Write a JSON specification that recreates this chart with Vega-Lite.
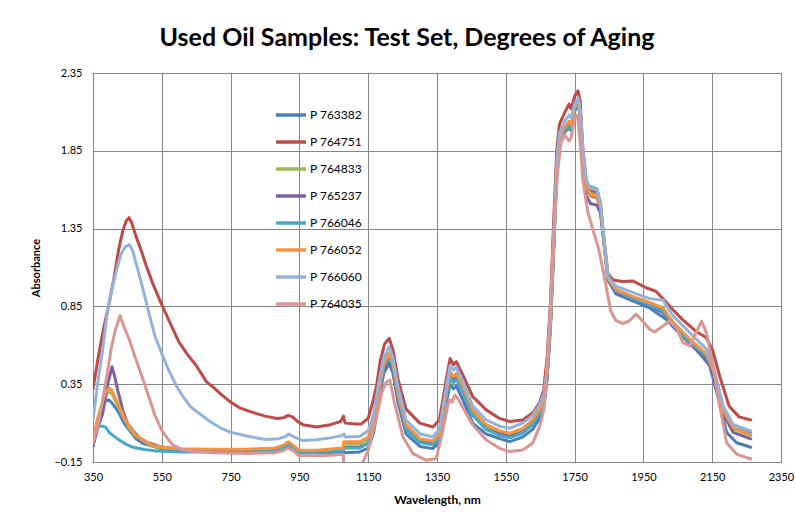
{
"$schema":"https://vega.github.io/schema/vega-lite/v6.json",
"width":688,"height":389,
"autosize":"none",
"padding":{"left":93,"top":73,"right":14,"bottom":67},
"background":"white",
"title":{"text":"Used Oil Samples: Test Set, Degrees of Aging","font":"Lato","fontSize":25,"fontWeight":"bold","color":"#000000","anchor":"middle","dx":-30,"offset":16},
"config":{"view":{"stroke":"#868686","strokeWidth":1},"font":"Lato"},
"datasets":{"d":[
{"s":"P 763382","w":350,"a":-0.05},{"s":"P 763382","w":362,"a":0.10},{"s":"P 763382","w":373,"a":0.17},{"s":"P 763382","w":385,"a":0.24},{"s":"P 763382","w":395,"a":0.25},{"s":"P 763382","w":405,"a":0.23},{"s":"P 763382","w":415,"a":0.20},{"s":"P 763382","w":427,"a":0.16},{"s":"P 763382","w":440,"a":0.10},{"s":"P 763382","w":456,"a":0.053},{"s":"P 763382","w":475,"a":0.0},{"s":"P 763382","w":496,"a":-0.032},{"s":"P 763382","w":550,"a":-0.065},{"s":"P 763382","w":600,"a":-0.075},{"s":"P 763382","w":700,"a":-0.08},{"s":"P 763382","w":800,"a":-0.082},{"s":"P 763382","w":880,"a":-0.075},{"s":"P 763382","w":905,"a":-0.055},{"s":"P 763382","w":918,"a":-0.035},{"s":"P 763382","w":930,"a":-0.055},{"s":"P 763382","w":950,"a":-0.09},{"s":"P 763382","w":1000,"a":-0.09},{"s":"P 763382","w":1077,"a":-0.085},{"s":"P 763382","w":1085,"a":-0.09},{"s":"P 763382","w":1125,"a":-0.085},{"s":"P 763382","w":1150,"a":-0.06},{"s":"P 763382","w":1165,"a":0.03},{"s":"P 763382","w":1180,"a":0.22},{"s":"P 763382","w":1195,"a":0.42},{"s":"P 763382","w":1211,"a":0.483},{"s":"P 763382","w":1222,"a":0.42},{"s":"P 763382","w":1237,"a":0.23},{"s":"P 763382","w":1260,"a":0.03},{"s":"P 763382","w":1300,"a":-0.05},{"s":"P 763382","w":1338,"a":-0.064},{"s":"P 763382","w":1357,"a":-0.02},{"s":"P 763382","w":1377,"a":0.23},{"s":"P 763382","w":1388,"a":0.35},{"s":"P 763382","w":1398,"a":0.32},{"s":"P 763382","w":1406,"a":0.34},{"s":"P 763382","w":1425,"a":0.25},{"s":"P 763382","w":1454,"a":0.10},{"s":"P 763382","w":1493,"a":0.03},{"s":"P 763382","w":1532,"a":0.0},{"s":"P 763382","w":1561,"a":-0.019},{"s":"P 763382","w":1599,"a":0.01},{"s":"P 763382","w":1628,"a":0.06},{"s":"P 763382","w":1648,"a":0.13},{"s":"P 763382","w":1660,"a":0.19},{"s":"P 763382","w":1670,"a":0.38},{"s":"P 763382","w":1680,"a":0.72},{"s":"P 763382","w":1690,"a":1.25},{"s":"P 763382","w":1698,"a":1.70},{"s":"P 763382","w":1706,"a":1.90},{"s":"P 763382","w":1721,"a":1.97},{"s":"P 763382","w":1734,"a":2.00},{"s":"P 763382","w":1740,"a":1.98},{"s":"P 763382","w":1750,"a":2.10},{"s":"P 763382","w":1760,"a":2.16},{"s":"P 763382","w":1766,"a":2.08},{"s":"P 763382","w":1774,"a":1.82},{"s":"P 763382","w":1784,"a":1.61},{"s":"P 763382","w":1797,"a":1.56},{"s":"P 763382","w":1815,"a":1.55},{"s":"P 763382","w":1825,"a":1.48},{"s":"P 763382","w":1832,"a":1.33},{"s":"P 763382","w":1847,"a":1.02},{"s":"P 763382","w":1870,"a":0.93},{"s":"P 763382","w":1919,"a":0.885},{"s":"P 763382","w":1968,"a":0.84},{"s":"P 763382","w":2016,"a":0.767},{"s":"P 763382","w":2075,"a":0.64},{"s":"P 763382","w":2124,"a":0.52},{"s":"P 763382","w":2143,"a":0.467},{"s":"P 763382","w":2163,"a":0.30},{"s":"P 763382","w":2192,"a":0.04},{"s":"P 763382","w":2221,"a":-0.026},{"s":"P 763382","w":2262,"a":-0.055},

{"s":"P 764751","w":350,"a":0.32},{"s":"P 764751","w":365,"a":0.52},{"s":"P 764751","w":380,"a":0.70},{"s":"P 764751","w":395,"a":0.85},{"s":"P 764751","w":410,"a":1.02},{"s":"P 764751","w":425,"a":1.22},{"s":"P 764751","w":437,"a":1.34},{"s":"P 764751","w":447,"a":1.40},{"s":"P 764751","w":455,"a":1.42},{"s":"P 764751","w":462,"a":1.39},{"s":"P 764751","w":475,"a":1.30},{"s":"P 764751","w":490,"a":1.21},{"s":"P 764751","w":505,"a":1.11},{"s":"P 764751","w":525,"a":0.99},{"s":"P 764751","w":550,"a":0.86},{"s":"P 764751","w":575,"a":0.74},{"s":"P 764751","w":600,"a":0.62},{"s":"P 764751","w":625,"a":0.54},{"s":"P 764751","w":650,"a":0.47},{"s":"P 764751","w":680,"a":0.365},{"s":"P 764751","w":700,"a":0.33},{"s":"P 764751","w":725,"a":0.28},{"s":"P 764751","w":750,"a":0.235},{"s":"P 764751","w":775,"a":0.20},{"s":"P 764751","w":805,"a":0.175},{"s":"P 764751","w":850,"a":0.145},{"s":"P 764751","w":885,"a":0.13},{"s":"P 764751","w":905,"a":0.135},{"s":"P 764751","w":917,"a":0.15},{"s":"P 764751","w":930,"a":0.14},{"s":"P 764751","w":945,"a":0.11},{"s":"P 764751","w":960,"a":0.09},{"s":"P 764751","w":1000,"a":0.075},{"s":"P 764751","w":1040,"a":0.09},{"s":"P 764751","w":1070,"a":0.11},{"s":"P 764751","w":1078,"a":0.145},{"s":"P 764751","w":1083,"a":0.10},{"s":"P 764751","w":1110,"a":0.095},{"s":"P 764751","w":1130,"a":0.095},{"s":"P 764751","w":1150,"a":0.13},{"s":"P 764751","w":1165,"a":0.25},{"s":"P 764751","w":1175,"a":0.35},{"s":"P 764751","w":1185,"a":0.50},{"s":"P 764751","w":1198,"a":0.61},{"s":"P 764751","w":1205,"a":0.63},{"s":"P 764751","w":1211,"a":0.645},{"s":"P 764751","w":1222,"a":0.57},{"s":"P 764751","w":1237,"a":0.38},{"s":"P 764751","w":1260,"a":0.19},{"s":"P 764751","w":1300,"a":0.10},{"s":"P 764751","w":1338,"a":0.075},{"s":"P 764751","w":1357,"a":0.12},{"s":"P 764751","w":1377,"a":0.38},{"s":"P 764751","w":1388,"a":0.515},{"s":"P 764751","w":1398,"a":0.475},{"s":"P 764751","w":1406,"a":0.495},{"s":"P 764751","w":1425,"a":0.41},{"s":"P 764751","w":1454,"a":0.27},{"s":"P 764751","w":1493,"a":0.185},{"s":"P 764751","w":1532,"a":0.13},{"s":"P 764751","w":1561,"a":0.11},{"s":"P 764751","w":1599,"a":0.12},{"s":"P 764751","w":1628,"a":0.165},{"s":"P 764751","w":1648,"a":0.23},{"s":"P 764751","w":1660,"a":0.31},{"s":"P 764751","w":1670,"a":0.52},{"s":"P 764751","w":1680,"a":0.88},{"s":"P 764751","w":1690,"a":1.45},{"s":"P 764751","w":1698,"a":1.85},{"s":"P 764751","w":1706,"a":2.02},{"s":"P 764751","w":1721,"a":2.095},{"s":"P 764751","w":1734,"a":2.15},{"s":"P 764751","w":1740,"a":2.12},{"s":"P 764751","w":1750,"a":2.20},{"s":"P 764751","w":1760,"a":2.235},{"s":"P 764751","w":1766,"a":2.17},{"s":"P 764751","w":1774,"a":1.87},{"s":"P 764751","w":1784,"a":1.66},{"s":"P 764751","w":1797,"a":1.59},{"s":"P 764751","w":1815,"a":1.58},{"s":"P 764751","w":1825,"a":1.50},{"s":"P 764751","w":1832,"a":1.35},{"s":"P 764751","w":1847,"a":1.06},{"s":"P 764751","w":1861,"a":1.02},{"s":"P 764751","w":1890,"a":1.01},{"s":"P 764751","w":1919,"a":1.014},{"s":"P 764751","w":1958,"a":0.97},{"s":"P 764751","w":1987,"a":0.946},{"s":"P 764751","w":2011,"a":0.89},{"s":"P 764751","w":2035,"a":0.83},{"s":"P 764751","w":2064,"a":0.765},{"s":"P 764751","w":2103,"a":0.69},{"s":"P 764751","w":2132,"a":0.65},{"s":"P 764751","w":2151,"a":0.57},{"s":"P 764751","w":2172,"a":0.40},{"s":"P 764751","w":2199,"a":0.21},{"s":"P 764751","w":2228,"a":0.14},{"s":"P 764751","w":2262,"a":0.12},

{"s":"P 764833","w":350,"a":-0.035},{"s":"P 764833","w":362,"a":0.11},{"s":"P 764833","w":373,"a":0.19},{"s":"P 764833","w":385,"a":0.28},{"s":"P 764833","w":395,"a":0.30},{"s":"P 764833","w":405,"a":0.29},{"s":"P 764833","w":415,"a":0.245},{"s":"P 764833","w":427,"a":0.19},{"s":"P 764833","w":440,"a":0.13},{"s":"P 764833","w":456,"a":0.065},{"s":"P 764833","w":475,"a":0.015},{"s":"P 764833","w":496,"a":-0.015},{"s":"P 764833","w":520,"a":-0.045},{"s":"P 764833","w":550,"a":-0.06},{"s":"P 764833","w":600,"a":-0.068},{"s":"P 764833","w":700,"a":-0.072},{"s":"P 764833","w":800,"a":-0.072},{"s":"P 764833","w":880,"a":-0.065},{"s":"P 764833","w":905,"a":-0.045},{"s":"P 764833","w":918,"a":-0.025},{"s":"P 764833","w":930,"a":-0.045},{"s":"P 764833","w":950,"a":-0.08},{"s":"P 764833","w":1000,"a":-0.08},{"s":"P 764833","w":1050,"a":-0.07},{"s":"P 764833","w":1077,"a":-0.068},{"s":"P 764833","w":1079,"a":-0.035},{"s":"P 764833","w":1125,"a":-0.035},{"s":"P 764833","w":1150,"a":-0.005},{"s":"P 764833","w":1165,"a":0.08},{"s":"P 764833","w":1180,"a":0.28},{"s":"P 764833","w":1195,"a":0.47},{"s":"P 764833","w":1211,"a":0.535},{"s":"P 764833","w":1222,"a":0.47},{"s":"P 764833","w":1237,"a":0.28},{"s":"P 764833","w":1260,"a":0.08},{"s":"P 764833","w":1300,"a":-0.01},{"s":"P 764833","w":1338,"a":-0.025},{"s":"P 764833","w":1357,"a":0.02},{"s":"P 764833","w":1377,"a":0.29},{"s":"P 764833","w":1388,"a":0.42},{"s":"P 764833","w":1398,"a":0.39},{"s":"P 764833","w":1406,"a":0.41},{"s":"P 764833","w":1425,"a":0.33},{"s":"P 764833","w":1454,"a":0.175},{"s":"P 764833","w":1493,"a":0.08},{"s":"P 764833","w":1532,"a":0.04},{"s":"P 764833","w":1561,"a":0.025},{"s":"P 764833","w":1599,"a":0.055},{"s":"P 764833","w":1628,"a":0.11},{"s":"P 764833","w":1648,"a":0.18},{"s":"P 764833","w":1660,"a":0.24},{"s":"P 764833","w":1670,"a":0.41},{"s":"P 764833","w":1680,"a":0.75},{"s":"P 764833","w":1690,"a":1.29},{"s":"P 764833","w":1698,"a":1.73},{"s":"P 764833","w":1706,"a":1.92},{"s":"P 764833","w":1721,"a":1.99},{"s":"P 764833","w":1734,"a":2.03},{"s":"P 764833","w":1740,"a":2.01},{"s":"P 764833","w":1750,"a":2.12},{"s":"P 764833","w":1760,"a":2.175},{"s":"P 764833","w":1766,"a":2.09},{"s":"P 764833","w":1774,"a":1.83},{"s":"P 764833","w":1784,"a":1.62},{"s":"P 764833","w":1797,"a":1.575},{"s":"P 764833","w":1815,"a":1.57},{"s":"P 764833","w":1825,"a":1.50},{"s":"P 764833","w":1832,"a":1.34},{"s":"P 764833","w":1847,"a":1.03},{"s":"P 764833","w":1870,"a":0.955},{"s":"P 764833","w":1919,"a":0.91},{"s":"P 764833","w":1968,"a":0.87},{"s":"P 764833","w":2007,"a":0.835},{"s":"P 764833","w":2036,"a":0.745},{"s":"P 764833","w":2085,"a":0.635},{"s":"P 764833","w":2133,"a":0.535},{"s":"P 764833","w":2153,"a":0.43},{"s":"P 764833","w":2182,"a":0.175},{"s":"P 764833","w":2211,"a":0.065},{"s":"P 764833","w":2262,"a":0.02},

{"s":"P 765237","w":350,"a":-0.05},{"s":"P 765237","w":365,"a":0.08},{"s":"P 765237","w":378,"a":0.16},{"s":"P 765237","w":392,"a":0.34},{"s":"P 765237","w":405,"a":0.462},{"s":"P 765237","w":413,"a":0.40},{"s":"P 765237","w":422,"a":0.31},{"s":"P 765237","w":437,"a":0.18},{"s":"P 765237","w":450,"a":0.10},{"s":"P 765237","w":466,"a":0.05},{"s":"P 765237","w":485,"a":0.005},{"s":"P 765237","w":506,"a":-0.022},{"s":"P 765237","w":550,"a":-0.054},{"s":"P 765237","w":600,"a":-0.068},{"s":"P 765237","w":700,"a":-0.075},{"s":"P 765237","w":800,"a":-0.077},{"s":"P 765237","w":880,"a":-0.07},{"s":"P 765237","w":905,"a":-0.05},{"s":"P 765237","w":918,"a":-0.03},{"s":"P 765237","w":930,"a":-0.05},{"s":"P 765237","w":950,"a":-0.085},{"s":"P 765237","w":1000,"a":-0.085},{"s":"P 765237","w":1050,"a":-0.078},{"s":"P 765237","w":1077,"a":-0.075},{"s":"P 765237","w":1079,"a":-0.055},{"s":"P 765237","w":1125,"a":-0.055},{"s":"P 765237","w":1150,"a":-0.03},{"s":"P 765237","w":1165,"a":0.06},{"s":"P 765237","w":1180,"a":0.26},{"s":"P 765237","w":1195,"a":0.45},{"s":"P 765237","w":1211,"a":0.515},{"s":"P 765237","w":1222,"a":0.45},{"s":"P 765237","w":1237,"a":0.26},{"s":"P 765237","w":1260,"a":0.06},{"s":"P 765237","w":1300,"a":-0.02},{"s":"P 765237","w":1338,"a":-0.036},{"s":"P 765237","w":1357,"a":0.005},{"s":"P 765237","w":1377,"a":0.27},{"s":"P 765237","w":1388,"a":0.40},{"s":"P 765237","w":1398,"a":0.37},{"s":"P 765237","w":1406,"a":0.39},{"s":"P 765237","w":1425,"a":0.30},{"s":"P 765237","w":1454,"a":0.15},{"s":"P 765237","w":1493,"a":0.06},{"s":"P 765237","w":1532,"a":0.03},{"s":"P 765237","w":1561,"a":0.013},{"s":"P 765237","w":1599,"a":0.04},{"s":"P 765237","w":1628,"a":0.09},{"s":"P 765237","w":1648,"a":0.16},{"s":"P 765237","w":1660,"a":0.22},{"s":"P 765237","w":1670,"a":0.40},{"s":"P 765237","w":1680,"a":0.74},{"s":"P 765237","w":1690,"a":1.28},{"s":"P 765237","w":1698,"a":1.72},{"s":"P 765237","w":1706,"a":1.91},{"s":"P 765237","w":1721,"a":1.98},{"s":"P 765237","w":1734,"a":2.01},{"s":"P 765237","w":1740,"a":1.99},{"s":"P 765237","w":1750,"a":2.11},{"s":"P 765237","w":1760,"a":2.17},{"s":"P 765237","w":1766,"a":2.08},{"s":"P 765237","w":1774,"a":1.80},{"s":"P 765237","w":1784,"a":1.56},{"s":"P 765237","w":1797,"a":1.51},{"s":"P 765237","w":1815,"a":1.50},{"s":"P 765237","w":1825,"a":1.45},{"s":"P 765237","w":1832,"a":1.32},{"s":"P 765237","w":1847,"a":1.02},{"s":"P 765237","w":1870,"a":0.94},{"s":"P 765237","w":1919,"a":0.895},{"s":"P 765237","w":1968,"a":0.855},{"s":"P 765237","w":2007,"a":0.81},{"s":"P 765237","w":2036,"a":0.72},{"s":"P 765237","w":2085,"a":0.61},{"s":"P 765237","w":2133,"a":0.52},{"s":"P 765237","w":2153,"a":0.42},{"s":"P 765237","w":2182,"a":0.16},{"s":"P 765237","w":2211,"a":0.04},{"s":"P 765237","w":2262,"a":-0.001},

{"s":"P 766046","w":350,"a":0.0},{"s":"P 766046","w":358,"a":0.07},{"s":"P 766046","w":368,"a":0.08},{"s":"P 766046","w":380,"a":0.08},{"s":"P 766046","w":388,"a":0.07},{"s":"P 766046","w":397,"a":0.04},{"s":"P 766046","w":412,"a":0.015},{"s":"P 766046","w":427,"a":-0.01},{"s":"P 766046","w":445,"a":-0.035},{"s":"P 766046","w":466,"a":-0.055},{"s":"P 766046","w":500,"a":-0.07},{"s":"P 766046","w":535,"a":-0.08},{"s":"P 766046","w":600,"a":-0.085},{"s":"P 766046","w":700,"a":-0.085},{"s":"P 766046","w":800,"a":-0.085},{"s":"P 766046","w":880,"a":-0.078},{"s":"P 766046","w":905,"a":-0.06},{"s":"P 766046","w":918,"a":-0.04},{"s":"P 766046","w":930,"a":-0.06},{"s":"P 766046","w":950,"a":-0.088},{"s":"P 766046","w":1000,"a":-0.088},{"s":"P 766046","w":1050,"a":-0.08},{"s":"P 766046","w":1077,"a":-0.078},{"s":"P 766046","w":1079,"a":-0.06},{"s":"P 766046","w":1125,"a":-0.06},{"s":"P 766046","w":1150,"a":-0.03},{"s":"P 766046","w":1165,"a":0.06},{"s":"P 766046","w":1180,"a":0.26},{"s":"P 766046","w":1195,"a":0.46},{"s":"P 766046","w":1211,"a":0.52},{"s":"P 766046","w":1222,"a":0.46},{"s":"P 766046","w":1237,"a":0.27},{"s":"P 766046","w":1260,"a":0.06},{"s":"P 766046","w":1300,"a":-0.025},{"s":"P 766046","w":1338,"a":-0.04},{"s":"P 766046","w":1357,"a":0.0},{"s":"P 766046","w":1377,"a":0.27},{"s":"P 766046","w":1388,"a":0.39},{"s":"P 766046","w":1398,"a":0.36},{"s":"P 766046","w":1406,"a":0.38},{"s":"P 766046","w":1425,"a":0.30},{"s":"P 766046","w":1454,"a":0.15},{"s":"P 766046","w":1493,"a":0.06},{"s":"P 766046","w":1532,"a":0.02},{"s":"P 766046","w":1561,"a":0.005},{"s":"P 766046","w":1599,"a":0.035},{"s":"P 766046","w":1628,"a":0.09},{"s":"P 766046","w":1648,"a":0.16},{"s":"P 766046","w":1660,"a":0.22},{"s":"P 766046","w":1670,"a":0.40},{"s":"P 766046","w":1680,"a":0.74},{"s":"P 766046","w":1690,"a":1.28},{"s":"P 766046","w":1698,"a":1.72},{"s":"P 766046","w":1706,"a":1.91},{"s":"P 766046","w":1721,"a":1.98},{"s":"P 766046","w":1734,"a":2.01},{"s":"P 766046","w":1740,"a":1.99},{"s":"P 766046","w":1750,"a":2.11},{"s":"P 766046","w":1760,"a":2.17},{"s":"P 766046","w":1766,"a":2.09},{"s":"P 766046","w":1774,"a":1.83},{"s":"P 766046","w":1784,"a":1.63},{"s":"P 766046","w":1797,"a":1.62},{"s":"P 766046","w":1815,"a":1.605},{"s":"P 766046","w":1825,"a":1.52},{"s":"P 766046","w":1832,"a":1.35},{"s":"P 766046","w":1847,"a":1.03},{"s":"P 766046","w":1870,"a":0.95},{"s":"P 766046","w":1919,"a":0.90},{"s":"P 766046","w":1968,"a":0.86},{"s":"P 766046","w":2007,"a":0.82},{"s":"P 766046","w":2036,"a":0.73},{"s":"P 766046","w":2085,"a":0.62},{"s":"P 766046","w":2133,"a":0.53},{"s":"P 766046","w":2153,"a":0.44},{"s":"P 766046","w":2182,"a":0.18},{"s":"P 766046","w":2211,"a":0.07},{"s":"P 766046","w":2262,"a":0.04},

{"s":"P 766052","w":350,"a":-0.03},{"s":"P 766052","w":362,"a":0.12},{"s":"P 766052","w":373,"a":0.20},{"s":"P 766052","w":385,"a":0.29},{"s":"P 766052","w":397,"a":0.325},{"s":"P 766052","w":405,"a":0.31},{"s":"P 766052","w":415,"a":0.26},{"s":"P 766052","w":427,"a":0.205},{"s":"P 766052","w":440,"a":0.14},{"s":"P 766052","w":456,"a":0.075},{"s":"P 766052","w":475,"a":0.02},{"s":"P 766052","w":496,"a":-0.01},{"s":"P 766052","w":520,"a":-0.04},{"s":"P 766052","w":550,"a":-0.055},{"s":"P 766052","w":600,"a":-0.065},{"s":"P 766052","w":700,"a":-0.068},{"s":"P 766052","w":800,"a":-0.068},{"s":"P 766052","w":880,"a":-0.06},{"s":"P 766052","w":905,"a":-0.04},{"s":"P 766052","w":918,"a":-0.02},{"s":"P 766052","w":930,"a":-0.04},{"s":"P 766052","w":950,"a":-0.075},{"s":"P 766052","w":1000,"a":-0.075},{"s":"P 766052","w":1050,"a":-0.065},{"s":"P 766052","w":1077,"a":-0.06},{"s":"P 766052","w":1079,"a":-0.02},{"s":"P 766052","w":1125,"a":-0.02},{"s":"P 766052","w":1150,"a":0.01},{"s":"P 766052","w":1165,"a":0.10},{"s":"P 766052","w":1180,"a":0.30},{"s":"P 766052","w":1195,"a":0.48},{"s":"P 766052","w":1211,"a":0.547},{"s":"P 766052","w":1222,"a":0.48},{"s":"P 766052","w":1237,"a":0.29},{"s":"P 766052","w":1260,"a":0.09},{"s":"P 766052","w":1300,"a":0.0},{"s":"P 766052","w":1338,"a":-0.015},{"s":"P 766052","w":1357,"a":0.03},{"s":"P 766052","w":1377,"a":0.30},{"s":"P 766052","w":1388,"a":0.43},{"s":"P 766052","w":1398,"a":0.40},{"s":"P 766052","w":1406,"a":0.42},{"s":"P 766052","w":1425,"a":0.34},{"s":"P 766052","w":1454,"a":0.185},{"s":"P 766052","w":1493,"a":0.09},{"s":"P 766052","w":1532,"a":0.05},{"s":"P 766052","w":1561,"a":0.035},{"s":"P 766052","w":1599,"a":0.065},{"s":"P 766052","w":1628,"a":0.12},{"s":"P 766052","w":1648,"a":0.19},{"s":"P 766052","w":1660,"a":0.25},{"s":"P 766052","w":1670,"a":0.42},{"s":"P 766052","w":1680,"a":0.76},{"s":"P 766052","w":1690,"a":1.30},{"s":"P 766052","w":1698,"a":1.74},{"s":"P 766052","w":1706,"a":1.93},{"s":"P 766052","w":1721,"a":2.00},{"s":"P 766052","w":1734,"a":2.04},{"s":"P 766052","w":1740,"a":2.02},{"s":"P 766052","w":1750,"a":2.13},{"s":"P 766052","w":1760,"a":2.18},{"s":"P 766052","w":1766,"a":2.10},{"s":"P 766052","w":1774,"a":1.83},{"s":"P 766052","w":1784,"a":1.62},{"s":"P 766052","w":1797,"a":1.565},{"s":"P 766052","w":1815,"a":1.56},{"s":"P 766052","w":1825,"a":1.49},{"s":"P 766052","w":1832,"a":1.34},{"s":"P 766052","w":1847,"a":1.03},{"s":"P 766052","w":1870,"a":0.96},{"s":"P 766052","w":1919,"a":0.915},{"s":"P 766052","w":1968,"a":0.875},{"s":"P 766052","w":2007,"a":0.84},{"s":"P 766052","w":2036,"a":0.75},{"s":"P 766052","w":2085,"a":0.64},{"s":"P 766052","w":2133,"a":0.545},{"s":"P 766052","w":2153,"a":0.44},{"s":"P 766052","w":2182,"a":0.18},{"s":"P 766052","w":2211,"a":0.07},{"s":"P 766052","w":2262,"a":0.024},

{"s":"P 766060","w":350,"a":0.12},{"s":"P 766060","w":365,"a":0.38},{"s":"P 766060","w":378,"a":0.57},{"s":"P 766060","w":392,"a":0.82},{"s":"P 766060","w":407,"a":0.98},{"s":"P 766060","w":420,"a":1.10},{"s":"P 766060","w":432,"a":1.19},{"s":"P 766060","w":445,"a":1.235},{"s":"P 766060","w":456,"a":1.247},{"s":"P 766060","w":465,"a":1.21},{"s":"P 766060","w":486,"a":1.04},{"s":"P 766060","w":500,"a":0.92},{"s":"P 766060","w":515,"a":0.785},{"s":"P 766060","w":530,"a":0.66},{"s":"P 766060","w":550,"a":0.548},{"s":"P 766060","w":570,"a":0.44},{"s":"P 766060","w":594,"a":0.333},{"s":"P 766060","w":615,"a":0.26},{"s":"P 766060","w":634,"a":0.204},{"s":"P 766060","w":660,"a":0.16},{"s":"P 766060","w":690,"a":0.11},{"s":"P 766060","w":720,"a":0.07},{"s":"P 766060","w":750,"a":0.041},{"s":"P 766060","w":800,"a":0.015},{"s":"P 766060","w":852,"a":-0.005},{"s":"P 766060","w":890,"a":0.0},{"s":"P 766060","w":910,"a":0.015},{"s":"P 766060","w":920,"a":0.03},{"s":"P 766060","w":935,"a":0.01},{"s":"P 766060","w":960,"a":-0.012},{"s":"P 766060","w":1000,"a":-0.007},{"s":"P 766060","w":1040,"a":0.005},{"s":"P 766060","w":1075,"a":0.02},{"s":"P 766060","w":1079,"a":0.03},{"s":"P 766060","w":1085,"a":0.01},{"s":"P 766060","w":1125,"a":0.014},{"s":"P 766060","w":1150,"a":0.05},{"s":"P 766060","w":1165,"a":0.15},{"s":"P 766060","w":1180,"a":0.35},{"s":"P 766060","w":1195,"a":0.52},{"s":"P 766060","w":1211,"a":0.59},{"s":"P 766060","w":1222,"a":0.52},{"s":"P 766060","w":1237,"a":0.33},{"s":"P 766060","w":1260,"a":0.12},{"s":"P 766060","w":1300,"a":0.032},{"s":"P 766060","w":1338,"a":0.011},{"s":"P 766060","w":1357,"a":0.06},{"s":"P 766060","w":1377,"a":0.33},{"s":"P 766060","w":1388,"a":0.47},{"s":"P 766060","w":1398,"a":0.44},{"s":"P 766060","w":1406,"a":0.46},{"s":"P 766060","w":1425,"a":0.37},{"s":"P 766060","w":1454,"a":0.21},{"s":"P 766060","w":1493,"a":0.12},{"s":"P 766060","w":1532,"a":0.08},{"s":"P 766060","w":1561,"a":0.067},{"s":"P 766060","w":1599,"a":0.10},{"s":"P 766060","w":1628,"a":0.15},{"s":"P 766060","w":1648,"a":0.22},{"s":"P 766060","w":1660,"a":0.28},{"s":"P 766060","w":1670,"a":0.45},{"s":"P 766060","w":1680,"a":0.80},{"s":"P 766060","w":1690,"a":1.35},{"s":"P 766060","w":1698,"a":1.78},{"s":"P 766060","w":1706,"a":1.96},{"s":"P 766060","w":1721,"a":2.04},{"s":"P 766060","w":1734,"a":2.08},{"s":"P 766060","w":1740,"a":2.06},{"s":"P 766060","w":1750,"a":2.15},{"s":"P 766060","w":1760,"a":2.19},{"s":"P 766060","w":1766,"a":2.12},{"s":"P 766060","w":1774,"a":1.85},{"s":"P 766060","w":1784,"a":1.66},{"s":"P 766060","w":1797,"a":1.61},{"s":"P 766060","w":1815,"a":1.60},{"s":"P 766060","w":1825,"a":1.52},{"s":"P 766060","w":1832,"a":1.36},{"s":"P 766060","w":1847,"a":1.04},{"s":"P 766060","w":1870,"a":0.98},{"s":"P 766060","w":1919,"a":0.94},{"s":"P 766060","w":1968,"a":0.90},{"s":"P 766060","w":2007,"a":0.89},{"s":"P 766060","w":2036,"a":0.79},{"s":"P 766060","w":2085,"a":0.68},{"s":"P 766060","w":2133,"a":0.575},{"s":"P 766060","w":2153,"a":0.47},{"s":"P 766060","w":2182,"a":0.21},{"s":"P 766060","w":2211,"a":0.09},{"s":"P 766060","w":2262,"a":0.05},

{"s":"P 764035","w":350,"a":-0.03},{"s":"P 764035","w":365,"a":0.10},{"s":"P 764035","w":378,"a":0.25},{"s":"P 764035","w":390,"a":0.40},{"s":"P 764035","w":402,"a":0.57},{"s":"P 764035","w":415,"a":0.70},{"s":"P 764035","w":429,"a":0.79},{"s":"P 764035","w":440,"a":0.72},{"s":"P 764035","w":456,"a":0.634},{"s":"P 764035","w":470,"a":0.54},{"s":"P 764035","w":486,"a":0.44},{"s":"P 764035","w":500,"a":0.35},{"s":"P 764035","w":515,"a":0.25},{"s":"P 764035","w":530,"a":0.15},{"s":"P 764035","w":550,"a":0.054},{"s":"P 764035","w":570,"a":-0.01},{"s":"P 764035","w":584,"a":-0.043},{"s":"P 764035","w":610,"a":-0.07},{"s":"P 764035","w":634,"a":-0.08},{"s":"P 764035","w":700,"a":-0.09},{"s":"P 764035","w":800,"a":-0.095},{"s":"P 764035","w":880,"a":-0.09},{"s":"P 764035","w":905,"a":-0.075},{"s":"P 764035","w":918,"a":-0.06},{"s":"P 764035","w":930,"a":-0.075},{"s":"P 764035","w":950,"a":-0.11},{"s":"P 764035","w":1000,"a":-0.11},{"s":"P 764035","w":1050,"a":-0.105},{"s":"P 764035","w":1078,"a":-0.10},{"s":"P 764035","w":1080,"a":-0.30},{"s":"P 764035","w":1125,"a":-0.20},{"s":"P 764035","w":1150,"a":-0.075},{"s":"P 764035","w":1174,"a":0.14},{"s":"P 764035","w":1190,"a":0.30},{"s":"P 764035","w":1203,"a":0.365},{"s":"P 764035","w":1213,"a":0.376},{"s":"P 764035","w":1227,"a":0.226},{"s":"P 764035","w":1251,"a":0.011},{"s":"P 764035","w":1280,"a":-0.096},{"s":"P 764035","w":1319,"a":-0.139},{"s":"P 764035","w":1348,"a":-0.128},{"s":"P 764035","w":1367,"a":0.054},{"s":"P 764035","w":1382,"a":0.22},{"s":"P 764035","w":1387,"a":0.25},{"s":"P 764035","w":1394,"a":0.235},{"s":"P 764035","w":1402,"a":0.28},{"s":"P 764035","w":1410,"a":0.26},{"s":"P 764035","w":1425,"a":0.20},{"s":"P 764035","w":1454,"a":0.088},{"s":"P 764035","w":1493,"a":-0.008},{"s":"P 764035","w":1532,"a":-0.062},{"s":"P 764035","w":1561,"a":-0.083},{"s":"P 764035","w":1599,"a":-0.073},{"s":"P 764035","w":1628,"a":-0.03},{"s":"P 764035","w":1648,"a":0.077},{"s":"P 764035","w":1660,"a":0.18},{"s":"P 764035","w":1667,"a":0.36},{"s":"P 764035","w":1677,"a":0.75},{"s":"P 764035","w":1690,"a":1.30},{"s":"P 764035","w":1700,"a":1.70},{"s":"P 764035","w":1710,"a":1.90},{"s":"P 764035","w":1721,"a":1.95},{"s":"P 764035","w":1734,"a":1.914},{"s":"P 764035","w":1740,"a":1.935},{"s":"P 764035","w":1750,"a":2.06},{"s":"P 764035","w":1755,"a":2.08},{"s":"P 764035","w":1760,"a":2.05},{"s":"P 764035","w":1767,"a":1.88},{"s":"P 764035","w":1774,"a":1.66},{"s":"P 764035","w":1789,"a":1.45},{"s":"P 764035","w":1805,"a":1.33},{"s":"P 764035","w":1820,"a":1.22},{"s":"P 764035","w":1840,"a":1.00},{"s":"P 764035","w":1855,"a":0.82},{"s":"P 764035","w":1870,"a":0.76},{"s":"P 764035","w":1890,"a":0.74},{"s":"P 764035","w":1909,"a":0.756},{"s":"P 764035","w":1929,"a":0.80},{"s":"P 764035","w":1943,"a":0.767},{"s":"P 764035","w":1968,"a":0.703},{"s":"P 764035","w":1982,"a":0.686},{"s":"P 764035","w":2007,"a":0.724},{"s":"P 764035","w":2026,"a":0.756},{"s":"P 764035","w":2046,"a":0.714},{"s":"P 764035","w":2065,"a":0.617},{"s":"P 764035","w":2085,"a":0.596},{"s":"P 764035","w":2099,"a":0.66},{"s":"P 764035","w":2119,"a":0.756},{"s":"P 764035","w":2133,"a":0.681},{"s":"P 764035","w":2153,"a":0.467},{"s":"P 764035","w":2172,"a":0.21},{"s":"P 764035","w":2192,"a":-0.026},{"s":"P 764035","w":2221,"a":-0.10},{"s":"P 764035","w":2262,"a":-0.13}
]},
"data":{"name":"d"},
"mark":{"type":"line","strokeWidth":3,"clip":true,"strokeJoin":"round","strokeCap":"round"},
"encoding":{
"x":{"field":"w","type":"quantitative","title":"Wavelength, nm","scale":{"domain":[350,2350],"nice":false,"zero":false},
"axis":{"values":[350,550,750,950,1150,1350,1550,1750,1950,2150,2350],"format":"d","grid":true,"gridColor":"#868686","gridOpacity":1,"gridWidth":1,"domain":false,"ticks":false,"labelPadding":9,"labelFontSize":11,"labelColor":"#000000","labelFont":"Lato","titleFont":"Lato","titleFontSize":12,"titleFontWeight":"bold","titleColor":"#000000","titlePadding":12,"labelFlush":false}},
"y":{"field":"a","type":"quantitative","title":"Absorbance","scale":{"domain":[-0.15,2.35],"nice":false,"zero":false},
"axis":{"values":[-0.15,0.35,0.85,1.35,1.85,2.35],"format":".2f","grid":true,"gridColor":"#868686","gridOpacity":1,"gridWidth":1,"domain":false,"ticks":false,"labelPadding":11,"labelFontSize":11,"labelColor":"#000000","labelFont":"Lato","titleFont":"Lato","titleFontSize":11,"titleFontWeight":"bold","titleColor":"#000000","titlePadding":12}},
"color":{"field":"s","type":"nominal","title":null,
"scale":{"domain":["P 763382","P 764751","P 764833","P 765237","P 766046","P 766052","P 766060","P 764035"],"range":["#4A7EBB","#BE4B48","#98B954","#7D60A0","#46AAC5","#F69240","#93B3DC","#D99694"]},
"legend":{"orient":"none","legendX":181,"legendY":25,"symbolType":"stroke","symbolSize":900,"symbolStrokeWidth":3.5,"labelFontSize":12,"labelFont":"Lato","labelColor":"#000000","rowPadding":3,"labelOffset":2,"symbolOffset":0}}
}
}
